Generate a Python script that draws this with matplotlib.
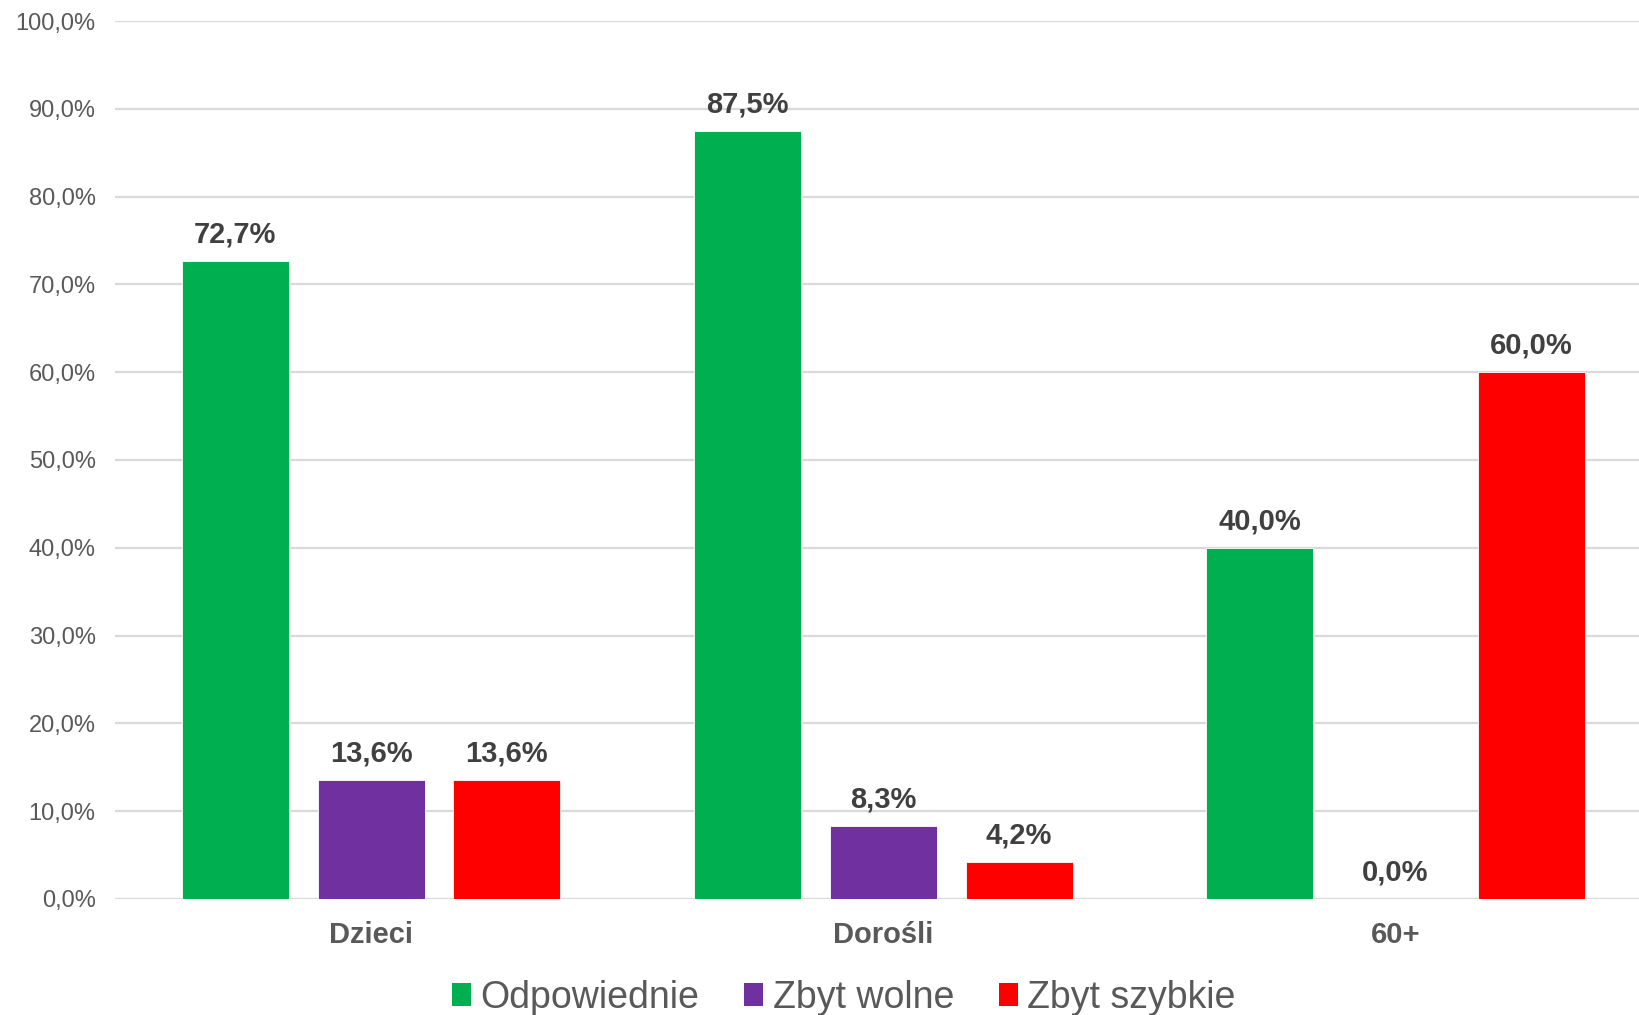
import matplotlib
matplotlib.use("Agg")
import matplotlib.pyplot as plt
import numpy as np
from matplotlib.patches import Patch

plt.rcParams['font.family'] = ['Liberation Sans', 'DejaVu Sans']

categories = ["Dzieci", "Dorośli", "60+"]
series_names = ["Odpowiednie", "Zbyt wolne", "Zbyt szybkie"]
odpowiednie = [72.7, 87.5, 40.0]
zbyt_wolne = [13.6, 8.3, 0.0]
zbyt_szybkie = [13.6, 4.2, 60.0]
colors = ["#00B050", "#7030A0", "#FF0000"]
yticks = [0, 10, 20, 30, 40, 50, 60, 70, 80, 90, 100]

fig = plt.figure(figsize=(16.39, 10.15), dpi=100)
ax = fig.add_axes([0.0702, 0.1143, 0.9375, 0.865])

x = np.arange(len(categories))
step = 0.265
width = 0.209
series = [odpowiednie, zbyt_wolne, zbyt_szybkie]
for i, (vals, name, col) in enumerate(zip(series, series_names, colors)):
    pos = x + (i - 1) * step
    bars = ax.bar(pos, vals, width=width, color=col, label=name, zorder=3,
                  edgecolor='white', linewidth=0.6)
    for b, v in zip(bars, vals):
        ax.annotate(f"{v:.1f}".replace('.', ',') + "%",
                    xy=(b.get_x() + b.get_width() / 2, v),
                    xytext=(0, 9), textcoords='offset points',
                    ha='center', va='bottom', fontsize=21, fontweight='bold',
                    color='#404040')

ax.set_xlim(-0.5, 2.5)
ax.set_ylim(0, 100)
ax.set_yticks(yticks)
ax.set_yticklabels([f"{t:.1f}".replace('.', ',') + "%" for t in yticks],
                   fontsize=17, color='#595959')
ax.set_xticks(x)
ax.set_xticklabels(categories, fontsize=21, fontweight='bold', color='#595959')
ax.tick_params(axis='both', length=0)
ax.tick_params(axis='x', pad=16)
ax.tick_params(axis='y', pad=14)
ax.grid(axis='y', color='#D9D9D9', linewidth=1.6, zorder=0)
for s in ax.spines.values():
    s.set_visible(False)

handles = [Patch(facecolor=c, edgecolor='none') for c in colors]
fig.legend(handles, series_names, loc='center', bbox_to_anchor=(844 / 1639, 1 - 998 / 1015),
           ncol=3, frameon=False, fontsize=27, labelcolor='#595959',
           handlelength=0.5, handleheight=0.55, handletextpad=0.25, columnspacing=1.2)

fig.savefig("out.png", dpi=100)
